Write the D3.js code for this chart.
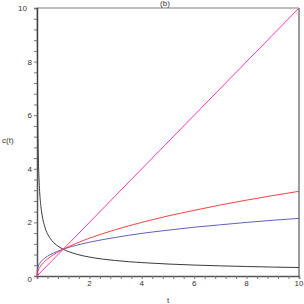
<!DOCTYPE html>
<html><head><meta charset="utf-8">
<script src="https://cdn.jsdelivr.net/npm/d3@7"></script>
<style>
body{margin:0;background:#fff}
svg{display:block}
text{font-family:"Liberation Sans",Arial,sans-serif;fill:#333}
</style></head>
<body>
<script>
// Data
const xTicks = [2, 4, 6, 8, 10];
const yTicks = [0, 2, 4, 6, 8, 10];
const tRise = [0, 0.01, 0.02, 0.05, 0.1, 0.2, 0.3, 0.5, 0.75, 1, 1.5, 2, 3, 4, 5, 6, 7, 8, 9, 10];
const redVals = [0, 0.1, 0.141, 0.224, 0.316, 0.447, 0.548, 0.707, 0.866, 1, 1.22, 1.41, 1.73, 2, 2.24, 2.45, 2.65, 2.83, 3, 3.16];
const blueVals = [0, 0.215, 0.271, 0.368, 0.464, 0.585, 0.669, 0.794, 0.909, 1, 1.145, 1.26, 1.44, 1.59, 1.71, 1.82, 1.91, 2, 2.08, 2.15];
const tLine = [0, 10];
const magentaVals = [0, 10];
const tFall = [0.01, 0.015, 0.02, 0.03, 0.05, 0.075, 0.1, 0.15, 0.2, 0.3, 0.5, 0.75, 1, 1.5, 2, 3, 4, 5, 6, 7, 8, 9, 10];
const blackVals = [10, 8.16, 7.07, 5.77, 4.47, 3.65, 3.16, 2.58, 2.24, 1.83, 1.41, 1.15, 1, 0.816, 0.707, 0.577, 0.5, 0.447, 0.408, 0.378, 0.354, 0.333, 0.316];
const title = "(b)", xLabel = "t", yLabel = "c(t)";

const W = 304, H = 304;
const m = {l: 37, r: 5, t: 8, b: 28};
const svg = d3.select("body").append("svg").attr("width", W).attr("height", H);
const x = d3.scaleLinear().domain([0, 10]).range([m.l, W - m.r]);
const y = d3.scaleLinear().domain([0, 10]).range([H - m.b, m.t]);

// frame (top and right)
svg.append("line").attr("x1", x(0)).attr("x2", x(10)).attr("y1", y(10)).attr("y2", y(10))
  .attr("stroke", "#bdbdbd").attr("stroke-width", 2);
svg.append("line").attr("x1", x(10)).attr("x2", x(10)).attr("y1", y(10)).attr("y2", y(0))
  .attr("stroke", "#666").attr("stroke-width", 1.3);

// minor ticks
const minor = d3.range(0, 10.001, 0.4);
const gx = svg.append("g").attr("transform", `translate(0,${y(0)})`)
  .call(d3.axisBottom(x).tickValues(minor).tickSize(3).tickFormat(""));
const gy = svg.append("g").attr("transform", `translate(${x(0)},0)`)
  .call(d3.axisLeft(y).tickValues(minor).tickSize(3).tickFormat(""));
[gx, gy].forEach(g => {
  g.select(".domain").attr("stroke", "#555").attr("stroke-width", 1.5);
  g.selectAll(".tick line").attr("stroke", "#777");
});

// tick labels
svg.append("g").selectAll("text").data(xTicks).join("text")
  .attr("x", d => x(d)).attr("y", y(0) + 10).attr("text-anchor", "middle")
  .attr("font-size", 8).text(d => d);
svg.append("g").selectAll("text").data(yTicks).join("text")
  .attr("x", d => d === 10 ? 27 : 32).attr("y", d => y(d) + 3 + (d === 0 ? 3 : 0))
  .attr("text-anchor", "end").attr("font-size", 8).text(d => d);

// curves
const line = d3.line().x(d => x(d[0])).y(d => y(d[1])).curve(d3.curveMonotoneX);
const series = [
  {t: tFall, v: blackVals, c: "#3a3a3a"},
  {t: tRise, v: blueVals, c: "#6060c0"},
  {t: tRise, v: redVals, c: "#ff4040"},
  {t: tLine, v: magentaVals, c: "#ff33bb"}
];
series.forEach(s => {
  svg.append("path").datum(s.t.map((t, i) => [t, s.v[i]]))
    .attr("d", line).attr("fill", "none").attr("stroke", s.c).attr("stroke-width", 1);
});

// labels
svg.append("text").attr("x", 165).attr("y", 6).attr("text-anchor", "middle").attr("font-size", 8).text(title);
svg.append("text").attr("x", 168).attr("y", 303).attr("text-anchor", "middle").attr("font-size", 8).text(xLabel);
svg.append("text").attr("x", 2).attr("y", 143).attr("font-size", 8).text(yLabel);
</script>
</body></html>
